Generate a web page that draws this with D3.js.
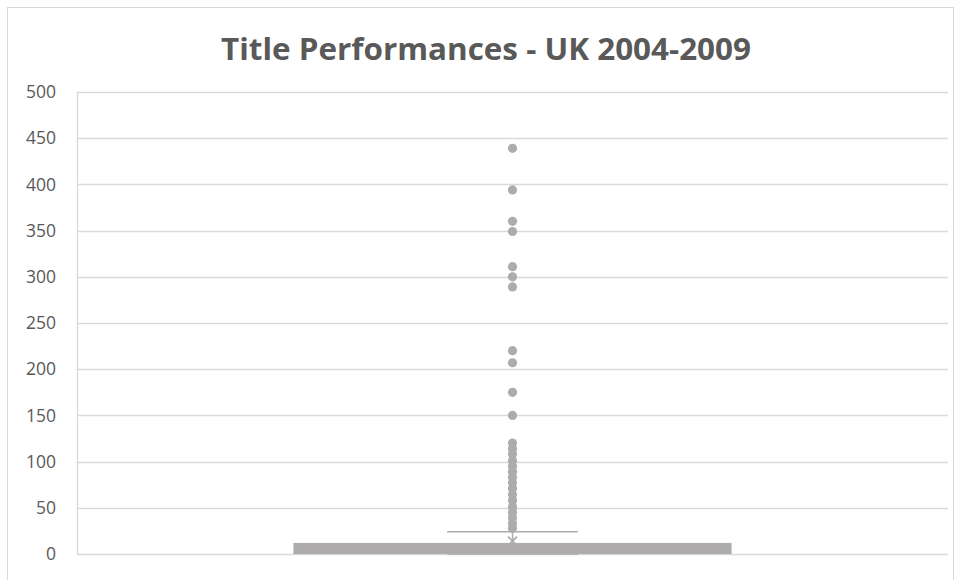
<!DOCTYPE html>
<html>
<head>
<meta charset="utf-8">
<script src="https://cdn.jsdelivr.net/npm/d3@7"></script>
<style>
  html, body { margin: 0; padding: 0; background: #fff; }
  svg { display: block; }
</style>
</head>
<body>
<svg id="chart" width="955" height="580"></svg>
<script>
// Box-and-whisker summary of title performance counts
const categories = ["UK 2004-2009"];
const quartiles = [0, 3, 12];      // Q1, median, Q3
const whiskers = [0, 24];          // lower, upper
const meanValues = [14];
const outliers = [
  439, 394, 360, 349, 311, 300, 289,
  220, 207, 175, 150,
  120, 114, 108, 101, 95, 89, 83, 77, 71, 64, 58, 51, 45, 39, 33, 28
];
const yTicks = [0, 50, 100, 150, 200, 250, 300, 350, 400, 450, 500];

const W = 955, H = 580;
const margin = { left: 77, right: 7, top: 92, bottom: 26 };
const svg = d3.select("#chart");
const boxColor = "#aeabab";
const textColor = "#595959";
const gridColor = "#d9d9d9";

// chart frame
svg.append("rect")
  .attr("x", 7.5).attr("y", 7.5)
  .attr("width", W - 9).attr("height", H)
  .attr("fill", "#fff").attr("stroke", "#d9d9d9").attr("stroke-width", 1);

svg.append("text")
  .attr("x", 486).attr("y", 60)
  .attr("text-anchor", "middle")
  .attr("font-family", "'Liberation Sans Narrow', 'Open Sans', sans-serif")
  .attr("font-weight", "bold")
  .attr("font-size", 30)
  .attr("fill", textColor)
  .attr("textLength", 530)
  .attr("lengthAdjust", "spacingAndGlyphs")
  .text("Title Performances - UK 2004-2009");

const x = d3.scaleBand()
  .domain(categories)
  .range([margin.left, W - margin.right])
  .paddingInner(0).paddingOuter(0);

const y = d3.scaleLinear()
  .domain([0, 500])
  .range([H - margin.bottom, margin.top]);

// gridlines
const grid = svg.append("g");
grid.selectAll("line")
  .data(yTicks)
  .join("line")
  .attr("x1", margin.left).attr("x2", W - margin.right)
  .attr("y1", d => Math.round(y(d)) + 0.5).attr("y2", d => Math.round(y(d)) + 0.5)
  .attr("stroke", gridColor).attr("stroke-width", 1.3);

grid.append("line")
  .attr("x1", margin.left + 0.5).attr("x2", margin.left + 0.5)
  .attr("y1", y(500)).attr("y2", y(0))
  .attr("stroke", gridColor).attr("stroke-width", 1.3);

// y axis labels
const yAxis = d3.axisLeft(y).tickValues(yTicks).tickSize(0).tickPadding(21);
const ya = svg.append("g")
  .attr("transform", `translate(${margin.left},0)`)
  .call(yAxis);
ya.select(".domain").remove();
ya.selectAll("text")
  .attr("font-family", "'Open Sans', 'Noto Sans', sans-serif")
  .attr("font-size", 17.5)
  .attr("fill", textColor);

categories.forEach(cat => {
  const bx = x(cat);
  const bw = x.bandwidth();
  const cx = bx + bw / 2;
  const boxW = bw * 0.503;
  const capW = bw * 0.15;

  // whisker stem and cap
  const wg = svg.append("g").attr("stroke", boxColor).attr("stroke-width", 1.5);
  wg.append("line")
    .attr("x1", cx).attr("x2", cx)
    .attr("y1", y(quartiles[2])).attr("y2", y(whiskers[1]));
  wg.append("line")
    .attr("x1", cx - capW / 2).attr("x2", cx + capW / 2)
    .attr("y1", y(whiskers[1])).attr("y2", y(whiskers[1]));
  wg.append("line")
    .attr("x1", cx - capW / 2).attr("x2", cx + capW / 2)
    .attr("y1", y(whiskers[0])).attr("y2", y(whiskers[0]));

  // box
  svg.append("rect")
    .attr("x", cx - boxW / 2)
    .attr("y", y(quartiles[2]))
    .attr("width", boxW)
    .attr("height", y(quartiles[0]) - y(quartiles[2]))
    .attr("fill", boxColor);

  svg.append("line")
    .attr("x1", cx - boxW / 2).attr("x2", cx + boxW / 2)
    .attr("y1", y(quartiles[1])).attr("y2", y(quartiles[1]))
    .attr("stroke", boxColor).attr("stroke-width", 1);

  // mean marker
  const s = 4.5;
  meanValues.forEach(m => {
    const my = y(m);
    svg.append("path")
      .attr("d", `M${cx - s},${my - s}L${cx + s},${my + s}M${cx + s},${my - s}L${cx - s},${my + s}`)
      .attr("stroke", boxColor).attr("stroke-width", 1.8).attr("fill", "none");
  });

  // outlier points
  svg.append("g").selectAll("circle")
    .data(outliers)
    .join("circle")
    .attr("cx", cx)
    .attr("cy", d => y(d))
    .attr("r", 4.6)
    .attr("fill", boxColor);
});
</script>
</body>
</html>
